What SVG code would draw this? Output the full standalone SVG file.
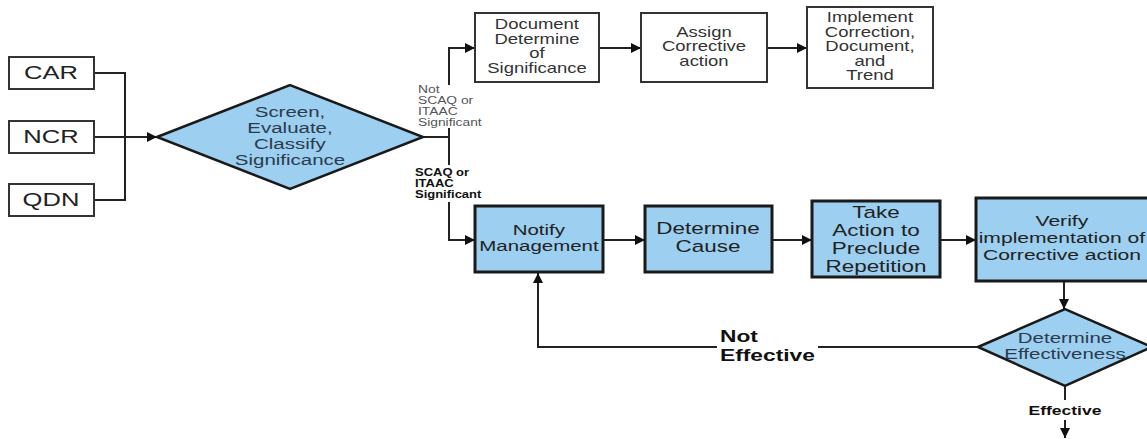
<svg xmlns="http://www.w3.org/2000/svg" width="1147" height="439" viewBox="0 0 1147 439">
<style>
text{font-family:"Liberation Sans",Arial,sans-serif;text-anchor:middle;dominant-baseline:central;transform-box:fill-box;transform-origin:center;transform:scaleX(1.32)}
.wbox{fill:#fff;stroke:#333;stroke-width:2}
.bbox{fill:#9dcff0;stroke:#1a1a1a;stroke-width:3}
.dia{fill:#9dcff0;stroke:#1a1a1a;stroke-width:2.5}
.src{font-size:18px;fill:#222;transform:scaleX(1.42)}
.t13{font-size:14px;fill:#333}
.t15{font-size:15.5px;fill:#222}
.t17{font-size:17px;fill:#222}
.t16{font-size:15.5px;fill:#222;transform:scaleX(1.36)}
.dt{font-size:15.5px;fill:#2b3a4d}
.lbl{font-size:10px;fill:#555;text-anchor:start;transform-origin:left center;transform:scaleX(1.38)}
.lblb{font-size:10px;fill:#111;font-weight:bold;text-anchor:start;transform-origin:left center;transform:scaleX(1.3)}
.ne{font-size:16.5px;font-weight:bold;fill:#111;text-anchor:start;transform-origin:left center;transform:scaleX(1.38)}
.ef{font-size:12.5px;font-weight:bold;fill:#111;transform:scaleX(1.4)}
.conn{fill:none;stroke:#222;stroke-width:2}
</style>
<defs>
<marker id="ah" viewBox="0 0 10 10" refX="10" refY="5" markerWidth="6" markerHeight="5" markerUnits="strokeWidth" orient="auto">
<path d="M0,0 L10,5 L0,10 z" fill="#111"/>
</marker>
</defs>
<g id="connectors">
<polyline class="conn" points="94,73 125,73 125,200 94,200"/>
<line class="conn" x1="94" y1="137" x2="157" y2="137" marker-end="url(#ah)"/>
<polyline class="conn" points="423,137 449,137 449,128"/>
<polyline class="conn" points="449,85 449,48 475,48" marker-end="url(#ah)"/>
<line class="conn" x1="449" y1="137" x2="449" y2="165"/>
<polyline class="conn" points="449,202 449,240 475,240" marker-end="url(#ah)"/>
<line class="conn" x1="599" y1="48" x2="641" y2="48" marker-end="url(#ah)"/>
<line class="conn" x1="767" y1="48" x2="807" y2="48" marker-end="url(#ah)"/>
<line class="conn" x1="603" y1="240" x2="645" y2="240" marker-end="url(#ah)"/>
<line class="conn" x1="772" y1="240" x2="812" y2="240" marker-end="url(#ah)"/>
<line class="conn" x1="940" y1="240" x2="976" y2="240" marker-end="url(#ah)"/>
<line class="conn" x1="1064" y1="281" x2="1064" y2="309" marker-end="url(#ah)"/>
<line class="conn" x1="978" y1="347" x2="818" y2="347"/>
<polyline class="conn" points="717,347 538,347 538,273" marker-end="url(#ah)"/>
<line class="conn" x1="1065" y1="386" x2="1065" y2="400"/>
<line class="conn" x1="1065" y1="420" x2="1065" y2="438" marker-end="url(#ah)"/>
<text class="lbl" x="418" y="90">Not</text>
<text class="lbl" x="418" y="101">SCAQ or</text>
<text class="lbl" x="418" y="112">ITAAC</text>
<text class="lbl" x="418" y="123">Significant</text>
<text class="lblb" x="415" y="173">SCAQ or</text>
<text class="lblb" x="415" y="184">ITAAC</text>
<text class="lblb" x="415" y="195">Significant</text>
<text class="ne" x="720" y="336">Not</text>
<text class="ne" x="720" y="355">Effective</text>
<text class="ef" x="1065" y="410">Effective</text>
</g>
<g id="car"><rect class="wbox" x="9" y="57" width="85" height="32"/><text class="src" x="51" y="73">CAR</text></g>
<g id="ncr"><rect class="wbox" x="9" y="121" width="85" height="32"/><text class="src" x="51" y="137">NCR</text></g>
<g id="qdn"><rect class="wbox" x="9" y="184" width="85" height="32"/><text class="src" x="51" y="200">QDN</text></g>
<g id="screen">
<polygon class="dia" points="157,137 290,85 423,137 290,189"/>
<text class="dt" x="290" y="112">Screen,</text>
<text class="dt" x="290" y="128">Evaluate,</text>
<text class="dt" x="290" y="144">Classify</text>
<text class="dt" x="290" y="160">Significance</text>
</g>
<g id="doc">
<rect class="wbox" x="475" y="13" width="124" height="69"/>
<text class="t13" x="537" y="24">Document</text>
<text class="t13" x="537" y="39">Determine</text>
<text class="t13" x="537" y="53">of</text>
<text class="t13" x="537" y="68">Significance</text>
</g>
<g id="assign">
<rect class="wbox" x="641" y="13" width="126" height="69"/>
<text class="t13" x="704" y="32">Assign</text>
<text class="t13" x="704" y="46">Corrective</text>
<text class="t13" x="704" y="61">action</text>
</g>
<g id="implement">
<rect class="wbox" x="807" y="7" width="126" height="81"/>
<text class="t13" x="870" y="17">Implement</text>
<text class="t13" x="870" y="32">Correction,</text>
<text class="t13" x="870" y="46">Document,</text>
<text class="t13" x="870" y="61">and</text>
<text class="t13" x="870" y="75">Trend</text>
</g>
<g id="notify">
<rect class="bbox" x="475" y="206" width="128" height="66"/>
<text class="t15" x="539" y="230">Notify</text>
<text class="t15" x="539" y="246">Management</text>
</g>
<g id="cause">
<rect class="bbox" x="645" y="206" width="127" height="66"/>
<text class="t17" x="708" y="228">Determine</text>
<text class="t17" x="708" y="246">Cause</text>
</g>
<g id="action">
<rect class="bbox" x="812" y="201" width="128" height="76"/>
<text class="t17" x="876" y="212">Take</text>
<text class="t17" x="876" y="230">Action to</text>
<text class="t17" x="876" y="248">Preclude</text>
<text class="t17" x="876" y="266">Repetition</text>
</g>
<g id="verify">
<rect class="bbox" x="976" y="198" width="175" height="83"/>
<text class="t16" x="1062" y="221">Verify</text>
<text class="t16" x="1062" y="238">implementation of</text>
<text class="t16" x="1062" y="255">Corrective action</text>
</g>
<g id="effectiveness">
<polygon class="dia" points="978,347 1065,309 1152,347 1065,386"/>
<text class="dt" x="1065" y="338">Determine</text>
<text class="dt" x="1065" y="354">Effectiveness</text>
</g>
</svg>
